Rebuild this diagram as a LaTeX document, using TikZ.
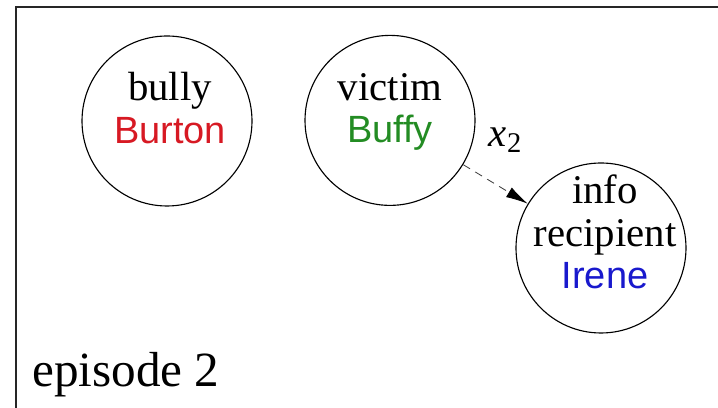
\documentclass[tikz,border=0pt]{standalone}
\usepackage{fontspec}
\setmainfont{Liberation Serif}
\setsansfont{Liberation Sans}
\usetikzlibrary{arrows.meta}
\definecolor{burton}{RGB}{215,25,35}
\definecolor{buffy}{RGB}{35,140,35}
\definecolor{irene}{RGB}{25,25,205}
\tikzset{
  agent/.style={draw,circle,minimum size=4.25cm,inner sep=0pt,line width=0.8pt},
  role/.style={align=center,inner sep=0pt,font=\fontsize{29}{30}\selectfont},
  tell/.style={dashed,dash pattern=on 0.2cm off 0.15cm,line width=0.6pt,black!75,
    -{Latex[length=0.55cm,width=0.28cm,black]}}
}
\newcommand{\who}[2]{{\sffamily\fontsize{27}{30}\selectfont\color{#1}#2}}
\begin{document}
\begin{tikzpicture}
\useasboundingbox (0,0) rectangle (17.95,10.2);
% frame
\draw[line width=1.2pt,black!85] (0.4,0) -- (0.4,10.025) -- (17.95,10.025);

% bully
\node[agent] (bully) at (4.175,7.175) {};
\node[role] (bullyname) at (4.25,7.5) {bully\\\who{burton}{Burton}};

% victim
\node[agent] (victim) at (9.75,7.19) {};
\node[role] (victimname) at (9.75,7.4) {victim\\\who{buffy}{Buffy}};

% info recipient
\node[agent] (info) at (15.025,4.0) {};
\node[role] (infoname) at (15.125,4.4) {info\\recipient\\\who{irene}{Irene}};

% x_2
\draw[tell] (victim) -- (info)
  node[midway,xshift=0.25cm,yshift=1.1cm,black,font=\fontsize{29}{30}\selectfont] (x2) {\textit{x}\textsubscript{2}};

\node[anchor=base west,inner sep=0pt,font=\fontsize{35}{40}\selectfont] (episode) at (0.8,0.525) {episode 2};
\end{tikzpicture}
\end{document}
